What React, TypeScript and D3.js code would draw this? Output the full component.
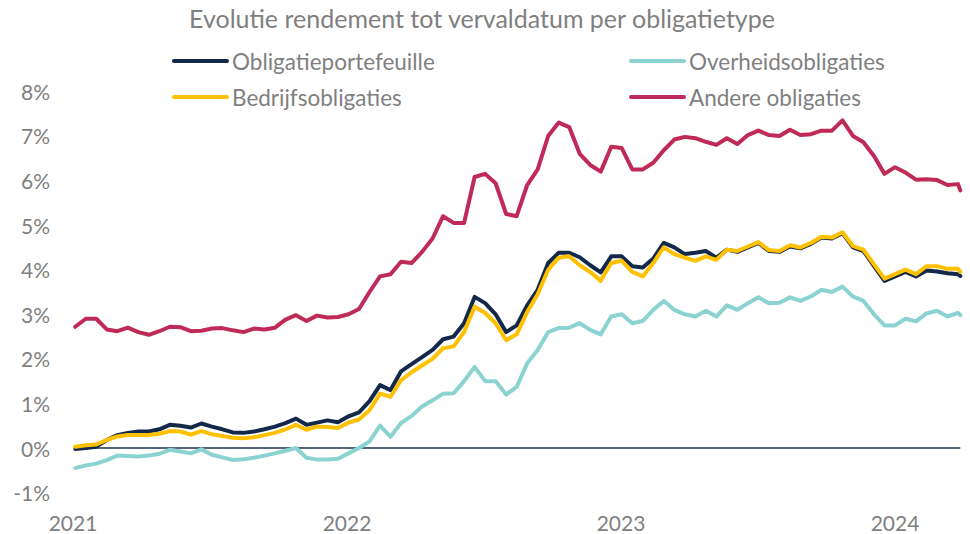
import { scaleTime, scaleLinear, line, timeDay } from "d3";

// bi-weekly observation dates, 4 Jan 2021 up to the last quote on 28 Mar 2024
const firstDate = new Date(2021, 0, 4);
const lastDate = new Date(2024, 2, 28);
const dates: Date[] = [...timeDay.range(firstDate, lastDate, 14), lastDate];

const portefeuille = [
  -0.02, 0.0, 0.03, 0.18, 0.29, 0.34, 0.37, 0.37, 0.42, 0.52, 0.5, 0.46, 0.55, 0.48, 0.42, 0.35,
  0.34, 0.37, 0.42, 0.48, 0.56, 0.66, 0.52, 0.57, 0.62, 0.58, 0.71, 0.8, 1.05, 1.41, 1.3, 1.72,
  1.88, 2.04, 2.2, 2.44, 2.5, 2.8, 3.39, 3.25, 3.0, 2.6, 2.75, 3.2, 3.55, 4.15, 4.38, 4.38,
  4.28, 4.1, 3.94, 4.3, 4.3, 4.08, 4.05, 4.25, 4.6, 4.5, 4.35, 4.38, 4.42, 4.27, 4.45, 4.4,
  4.5, 4.6, 4.42, 4.4, 4.52, 4.48, 4.58, 4.72, 4.7, 4.82, 4.5, 4.42, 4.08, 3.75, 3.85, 3.95,
  3.85, 3.98, 3.96, 3.92, 3.9, 3.86,
];

const overheid = [
  -0.45, -0.39, -0.35, -0.27, -0.17, -0.18, -0.19, -0.17, -0.13, -0.04, -0.08, -0.12, -0.03, -0.15,
  -0.21, -0.27, -0.25, -0.22, -0.17, -0.12, -0.06, 0.0, -0.22, -0.26, -0.26, -0.24, -0.12, 0.0,
  0.15, 0.5, 0.25, 0.56, 0.72, 0.93, 1.07, 1.22, 1.23, 1.5, 1.82, 1.5, 1.5, 1.2, 1.37, 1.9, 2.2,
  2.6, 2.69, 2.7, 2.8, 2.65, 2.55, 2.95, 3.0, 2.8, 2.85, 3.1, 3.3, 3.1, 3.0, 2.95, 3.08, 2.95, 3.2,
  3.1, 3.25, 3.38, 3.25, 3.26, 3.38, 3.3, 3.4, 3.55, 3.5, 3.62, 3.4, 3.3, 3.0, 2.75, 2.75, 2.9,
  2.84, 3.02, 3.08, 2.95, 3.03, 2.98,
];

const bedrijf = [
  0.03, 0.06, 0.08, 0.18, 0.26, 0.29, 0.29, 0.29, 0.32, 0.38, 0.37, 0.3, 0.38, 0.31, 0.27, 0.23,
  0.22, 0.24, 0.29, 0.34, 0.42, 0.52, 0.41, 0.48, 0.47, 0.45, 0.57, 0.64, 0.85, 1.22, 1.15, 1.52,
  1.7, 1.85, 2.0, 2.24, 2.28, 2.6, 3.17, 3.03, 2.8, 2.42, 2.55, 3.05, 3.45, 4.0, 4.27, 4.3, 4.1,
  3.95, 3.75, 4.15, 4.2, 3.95, 3.85, 4.15, 4.5, 4.35, 4.27, 4.2, 4.3, 4.22, 4.45, 4.42, 4.52, 4.62,
  4.44, 4.42, 4.55, 4.5, 4.6, 4.74, 4.72, 4.84, 4.53, 4.45, 4.12, 3.8, 3.9, 4.0, 3.9, 4.08, 4.08,
  4.02, 4.02, 3.95,
];

const andere = [
  2.72, 2.9, 2.9, 2.66, 2.62, 2.7, 2.6, 2.54, 2.62, 2.72, 2.71, 2.62, 2.63, 2.68, 2.69, 2.64, 2.6,
  2.68, 2.66, 2.7, 2.88, 2.98, 2.85, 2.97, 2.93, 2.94, 3.0, 3.12, 3.5, 3.85, 3.9, 4.18, 4.15, 4.4,
  4.7, 5.2, 5.05, 5.05, 6.08, 6.15, 5.94, 5.25, 5.2, 5.9, 6.25, 7.0, 7.3, 7.2, 6.6, 6.35, 6.2,
  6.76, 6.73, 6.25, 6.25, 6.4, 6.68, 6.92, 6.98, 6.95, 6.87, 6.8, 6.95, 6.82, 7.02, 7.12, 7.02,
  7.0, 7.14, 7.02, 7.04, 7.12, 7.12, 7.35, 7.0, 6.86, 6.55, 6.15, 6.3, 6.18, 6.02, 6.03, 6.01,
  5.9, 5.92, 5.78,
];

const seriesNames = ["Obligatieportefeuille", "Overheidsobligaties", "Bedrijfsobligaties", "Andere obligaties"];
const seriesValues = [portefeuille, overheid, bedrijf, andere];
const seriesColors = ["#14294a", "#8bd3d1", "#ffc000", "#bf2a58"];

const yTicks = [-1, 0, 1, 2, 3, 4, 5, 6, 7, 8];
const xTicks = [2021, 2022, 2023, 2024];

const title = "Evolutie rendement tot vervaldatum per obligatietype";

const W = 970;
const H = 534;
const textColor = "#7f7f7f";
const font = "Lato, 'Open Sans', sans-serif";

export default function App() {
  const x = scaleTime()
    .domain([new Date(2021, 0, 1), new Date(2024, 0, 1)])
    .range([73, 895]);
  const y = scaleLinear().domain([-1, 8]).range([492.6, 91.4]);

  const lineFn = line<number>()
    .x((_, i) => x(dates[i]))
    .y((d) => y(d));

  // legend: two columns, filled row by row like Excel does
  const legendCols = [172, 629];
  const legendRows = [61, 97];

  return (
    <div style={{ position: "fixed", left: 0, top: 0 }}>
      <svg width={W} height={H} style={{ display: "block", background: "#fff" }} fontFamily={font}>
        <text x={482} y={18} textAnchor="middle" dominantBaseline="central" fontSize={25} fill={textColor}>
          {title}
        </text>

        {seriesNames.map((name, i) => {
          const lx = legendCols[i % 2];
          const ly = legendRows[Math.floor(i / 2)];
          return (
            <g key={name}>
              <line x1={lx + 2} x2={lx + 55} y1={ly} y2={ly} stroke={seriesColors[i]} strokeWidth={4} strokeLinecap="round" />
              <text x={lx + 60} y={ly} dominantBaseline="central" fontSize={22.5} fill={textColor}>
                {name}
              </text>
            </g>
          );
        })}

        {yTicks.map((t) => (
          <text key={t} x={50} y={y(t)} textAnchor="end" dominantBaseline="central" fontSize={21} fill={textColor}>
            {`${t}%`}
          </text>
        ))}

        {xTicks.map((yr) => (
          <text
            key={yr}
            x={x(new Date(yr, 0, 1))}
            y={522}
            textAnchor="middle"
            dominantBaseline="central"
            fontSize={21}
            fill={textColor}
          >
            {yr}
          </text>
        ))}

        <line
          x1={x(dates[0])}
          x2={x(lastDate)}
          y1={y(0)}
          y2={y(0)}
          stroke="#1c2f4f"
          strokeWidth={1.5}
        />

        {seriesValues.map((vals, i) => (
          <path
            key={seriesNames[i]}
            d={lineFn(vals) ?? ""}
            fill="none"
            stroke={seriesColors[i]}
            strokeWidth={4}
            strokeLinejoin="round"
            strokeLinecap="round"
          />
        ))}
      </svg>
    </div>
  );
}
